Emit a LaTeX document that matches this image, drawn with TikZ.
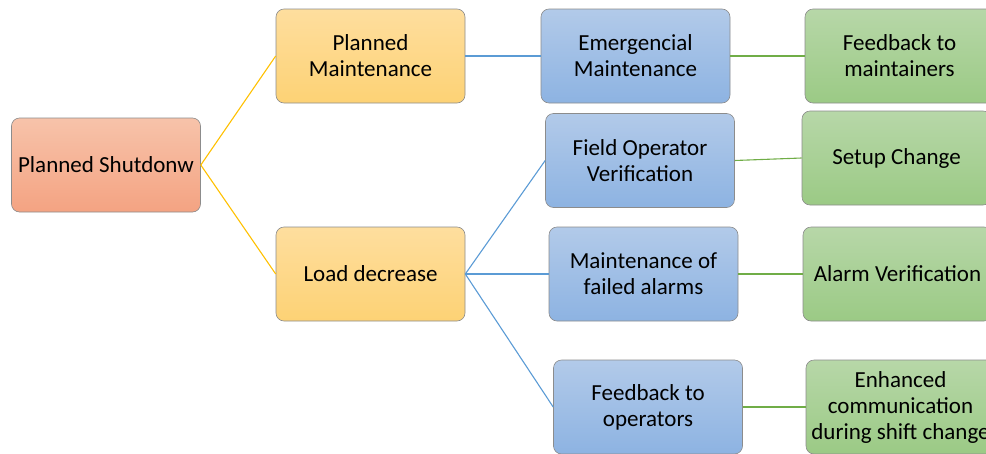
\documentclass[tikz,border=0pt]{standalone}
\usepackage{fontspec}
\setmainfont{Carlito}
\begin{document}
\begin{tikzpicture}[x=1pt,y=-1pt,
  box/.style={draw=black!45, line width=0.6pt, rounded corners=8pt, minimum width=189pt, minimum height=94pt, align=center, font=\fontsize{23}{26}\selectfont, inner sep=1pt},
  rootbox/.style={box, top color=rootT, bottom color=rootB},
  orbox/.style={box, top color=orT, bottom color=orB},
  blbox/.style={box, top color=blT, bottom color=blB},
  grbox/.style={box, top color=grT, bottom color=grB},
  yline/.style={draw=lineY, line width=1.1pt},
  bline/.style={draw=lineB, line width=1.1pt},
  gline/.style={draw=lineG, line width=1.1pt}]
\definecolor{rootT}{HTML}{F7C3AA}
\definecolor{rootB}{HTML}{F4A382}
\definecolor{orT}{HTML}{FEDE9E}
\definecolor{orB}{HTML}{FDD275}
\definecolor{blT}{HTML}{B2CAE9}
\definecolor{blB}{HTML}{8DB3E2}
\definecolor{grT}{HTML}{B7D7A8}
\definecolor{grB}{HTML}{9BCA85}
\definecolor{lineY}{HTML}{FFC000}
\definecolor{lineB}{HTML}{5B9BD5}
\definecolor{lineG}{HTML}{70AD47}
\useasboundingbox (0,0) rectangle (986,453);
\clip (0,0) rectangle (986,453);
\node[rootbox] (root) at (106,165) {Planned Shutdonw};
\node[orbox] (pm) at (370.5,56) {Planned\\Maintenance};
\node[orbox] (ld) at (370.5,274) {Load decrease};
\node[blbox] (em) at (635.5,56) {Emergencial\\Maintenance};
\node[blbox] (fov) at (640,160.5) {Field Operator\\Verification};
\node[blbox] (mfa) at (643.5,274) {Maintenance of\\failed alarms};
\node[blbox] (fo) at (648,407) {Feedback to\\operators};
\node[grbox] (fm) at (899.5,56) {Feedback to\\maintainers};
\node[grbox] (sc) at (896.5,158) {Setup Change};
\node[grbox] (av) at (897.5,274) {Alarm Verification};
\node[grbox] (ec) at (900.5,407) {Enhanced\\communication\\during shift change};
\draw[yline] (root.east) -- (pm.west);
\draw[yline] (root.east) -- (ld.west);
\draw[bline] (pm.east) -- (em.west);
\draw[bline] (ld.east) -- (fov.west);
\draw[bline] (ld.east) -- (mfa.west);
\draw[bline] (ld.east) -- (fo.west);
\draw[gline] (em.east) -- (fm.west);
\draw[gline] (fov.east) -- (sc.west);
\draw[gline] (mfa.east) -- (av.west);
\draw[gline] (fo.east) -- (ec.west);
\end{tikzpicture}
\end{document}
